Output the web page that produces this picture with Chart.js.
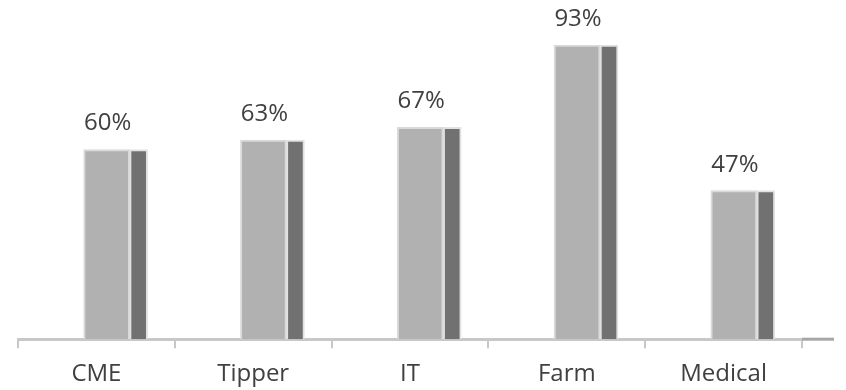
<!DOCTYPE html>
<html>
<head>
<meta charset="utf-8">
<script src="https://cdn.jsdelivr.net/npm/chart.js@4"></script>
<style>
  html, body { margin: 0; padding: 0; background: #ffffff; }
  #wrap { width: 846px; height: 390px; }
</style>
</head>
<body>
<div id="wrap"><canvas id="c" width="846" height="390"></canvas></div>
<script>
const categories = ['CME', 'Tipper', 'IT', 'Farm', 'Medical'];
const percentValues = [60, 63, 67, 93, 47];
const valueLabels = ['60%', '63%', '67%', '93%', '47%'];

const barPoints = percentValues.map((v, i) => ({ x: i, y: v }));

const dataLabelPlugin = {
  id: 'dataLabels',
  afterDatasetsDraw(chart) {
    const ctx = chart.ctx;
    const meta = chart.getDatasetMeta(0);
    ctx.save();
    ctx.font = '24px "Open Sans"';
    ctx.fillStyle = '#404040';
    ctx.textAlign = 'center';
    ctx.textBaseline = 'alphabetic';
    meta.data.forEach((el, i) => {
      ctx.fillText(valueLabels[i], el.x + 1, el.y - 19);
    });
    ctx.restore();
  }
};

const floorPlugin = {
  id: 'floorEnds',
  afterDraw(chart) {
    const ctx = chart.ctx;
    const a = chart.chartArea;
    ctx.save();
    ctx.strokeStyle = '#a6a6a6';
    ctx.lineWidth = 3;
    ctx.beginPath();
    ctx.moveTo(a.right, a.bottom);
    ctx.lineTo(a.right + 32, a.bottom);
    ctx.stroke();
    ctx.restore();
  }
};

new Chart(document.getElementById('c'), {
  type: 'bar',
  data: {
    labels: categories,
    datasets: [
      {
        label: 'front',
        data: barPoints,
        xAxisID: 'xb',
        backgroundColor: '#b1b1b1',
        borderColor: '#d9d9d9',
        borderWidth: 2,
        barThickness: 46,
        grouped: true
      },
      {
        label: 'side',
        data: barPoints,
        xAxisID: 'xb',
        backgroundColor: '#717171',
        borderColor: '#e2e2e2',
        borderWidth: 2,
        barThickness: 18,
        grouped: true
      }
    ]
  },
  options: {
    responsive: false,
    animation: false,
    layout: { padding: { left: 18, right: 44, top: 23, bottom: -11 } },
    plugins: { legend: { display: false }, tooltip: { enabled: false } },
    scales: {
      x: {
        type: 'category',
        labels: categories,
        offset: true,
        grid: { display: true, drawOnChartArea: false, drawTicks: true, tickLength: 9, lineWidth: 2, color: '#c8c8c8', offset: true },
        border: { display: true, color: '#c8c8c8', width: 3 },
        ticks: { color: '#404040', font: { family: '"Open Sans"', size: 24 }, padding: 12, maxRotation: 0 }
      },
      xb: {
        type: 'linear',
        display: false,
        offset: false,
        min: -0.712,
        max: 4.288
      },
      y: {
        display: false,
        min: 0,
        max: 100
      }
    }
  },
  plugins: [dataLabelPlugin, floorPlugin]
});
</script>
</body>
</html>
